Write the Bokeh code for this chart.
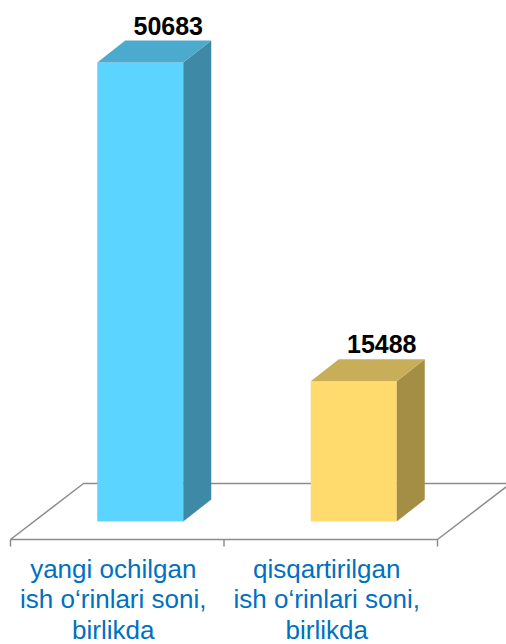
from bokeh.plotting import figure
from bokeh.models import Range1d, ColumnDataSource
from bokeh.core.properties import value
from bokeh.embed import file_html
from bokeh.resources import INLINE

# ---- data ----
categories = ["yangi ochilgan\nish o\u2018rinlari soni,\nbirlikda",
              "qisqartirilgan\nish o\u2018rinlari soni,\nbirlikda"]
values = [50683, 15488]
front_colors = ["#5BD5FF", "#FFDB6E"]
side_colors = ["#3E8AA6", "#A48E46"]
top_colors = ["#4BAACD", "#C9AE5A"]

# ---- geometry (data units) ----
PX_X = 1 / 213.5          # x data units per pixel
PX_Y = 50683 / 459.0      # y data units per pixel
bar_w = 86 * PX_X
bar_shift = 23 * PX_X
dx = 28 * PX_X
dy = 22 * PX_Y
floor_front = -18 * PX_Y
floor_back = 38 * PX_Y
floor_dx = 73 * PX_X
tick_len = 7 * PX_Y

n = len(values)
centers = [i + 0.5 + bar_shift for i in range(n)]

p = figure(width=506, height=644,
           x_range=Range1d(-10 * PX_X, 496 * PX_X),
           y_range=Range1d(-123 * PX_Y, 521 * PX_Y),
           output_backend="svg", toolbar_location=None,
           min_border=0, outline_line_color=None)
p.axis.visible = False
p.xgrid.visible = False
p.ygrid.visible = False
p.background_fill_color = "white"

# floor
p.patch([0, n, n + floor_dx, floor_dx], [floor_front, floor_front, floor_back, floor_back],
        fill_color="white", line_color="#8C8C8C", line_width=1.5)
# ticks
for i in range(n + 1):
    p.line([i, i], [floor_front, floor_front - tick_len], line_color="#8C8C8C", line_width=1.5)

# bar faces
base = 0
fronts = ColumnDataSource(dict(x=centers, top=values, color=front_colors))
p.vbar(x="x", top="top", bottom=base, width=bar_w, source=fronts,
       fill_color="color", line_color=None)

side_xs, side_ys, top_xs, top_ys = [], [], [], []
for c, v in zip(centers, values):
    r = c + bar_w / 2
    l = c - bar_w / 2
    side_xs.append([r, r + dx, r + dx, r])
    side_ys.append([base, base + dy, v + dy, v])
    top_xs.append([l, r, r + dx, l + dx])
    top_ys.append([v, v, v + dy, v + dy])
p.patches(side_xs, side_ys, fill_color=side_colors, line_color=None)
p.patches(top_xs, top_ys, fill_color=top_colors, line_color=None)

# value labels
labels = ColumnDataSource(dict(x=[c + dx for c in centers], y=[v + dy for v in values],
                               t=[str(v) for v in values]))
p.text(x="x", y="y", text="t", source=labels, text_align="center",
       text_baseline="alphabetic", y_offset=-15,
       text_font=value("Liberation Sans"), text_font_style="bold",
       text_font_size="25px", text_color="black")

# category labels
cats = ColumnDataSource(dict(x=[i + 0.5 for i in range(n)], y=[floor_front] * n, t=categories))
p.text(x="x", y="y", text="t", source=cats, text_align="center",
       text_baseline="top", y_offset=14, x_offset=-4, text_line_height=1.02,
       text_font=value("Liberation Sans"), text_font_size="26px", text_color="#0070C0")

open("out.html", "w").write(file_html(p, INLINE))
